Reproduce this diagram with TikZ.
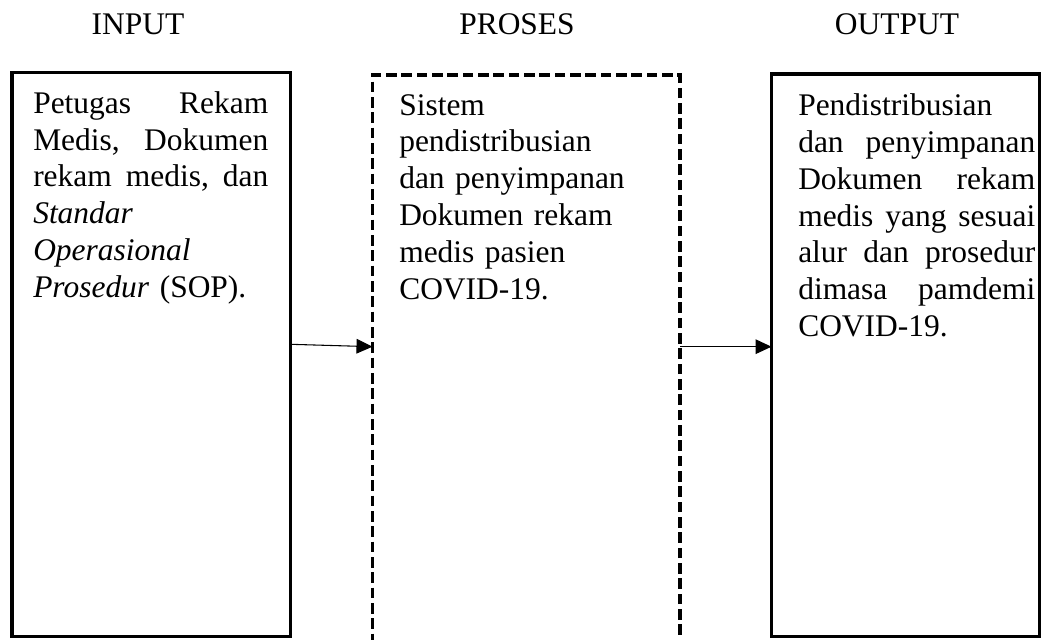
\documentclass[tikz,border=0pt]{standalone}
\usepackage{fontspec}
\setmainfont{Liberation Serif}
\usetikzlibrary{fit,arrows.meta}
\newcommand\jline[1]{\leavevmode\hbox to\hsize{#1}}
\begin{document}
\begin{tikzpicture}[x=0.75pt,y=-0.75pt,
  every node/.style={font=\fontsize{23.6pt}{27.6pt}\selectfont},
  solidbox/.style={draw, line width=2.8pt, inner sep=0pt, outer sep=0pt},
  dashbox/.style={draw, line width=2.4pt, dash pattern=on 8pt off 3.5pt, inner sep=0pt, outer sep=0pt},
  boxtext/.style={anchor=base west, inner sep=0pt, align=left, text width=#1},
  head/.style={anchor=base, inner sep=0pt},
  arr/.style={line width=0.8pt, -{Triangle[length=12pt,width=11pt]}}]
\useasboundingbox (0,0) rectangle (1042,639);
% headers
\node[head] (hin) at (138,34.3) {INPUT};
\node[head] (hpr) at (517,34.3) {PROSES};
\node[head] (hout) at (897,34.3) {OUTPUT};
% boxes
\node[solidbox, fit={(12,72.5) (290.5,636.5)}] (lb) {};
\node[dashbox, fit={(372.5,75) (680,680)}] (mb) {};
\node[solidbox, fit={(771.5,74) (1039.5,636.5)}] (rb) {};
% texts
\node[boxtext=176.25pt] (lt) at (33,113.3) {%
\jline{Petugas\hfill Rekam}\\
\jline{Medis,\hfill Dokumen}\\
\jline{rekam\hfill medis,\hfill dan}\\
\textit{Standar}\\
\textit{Operasional}\\
\textit{Prosedur} (SOP).};
\node[boxtext=240pt] (mt) at (399,115) {%
Sistem\\
pendistribusian\\
dan penyimpanan\\
Dokumen rekam\\
medis pasien\\
COVID-19.};
\node[boxtext=177.75pt] (rt) at (798,115.7) {%
Pendistribusian\\
\jline{dan\hfill penyimpanan}\\
\jline{Dokumen\hfill rekam}\\
\jline{medis\hfill yang\hfill sesuai}\\
\jline{alur\hfill dan\hfill prosedur}\\
\jline{dimasa\hfill pamdemi}\\
COVID-19.};
% arrows
\draw[arr] (lb.north east |- 0,344.3) -- (mb.north west |- 0,346.7);
\draw[arr] (mb.north east |- 0,346.7) -- (rb.north west |- 0,346.7);
\end{tikzpicture}
\end{document}
